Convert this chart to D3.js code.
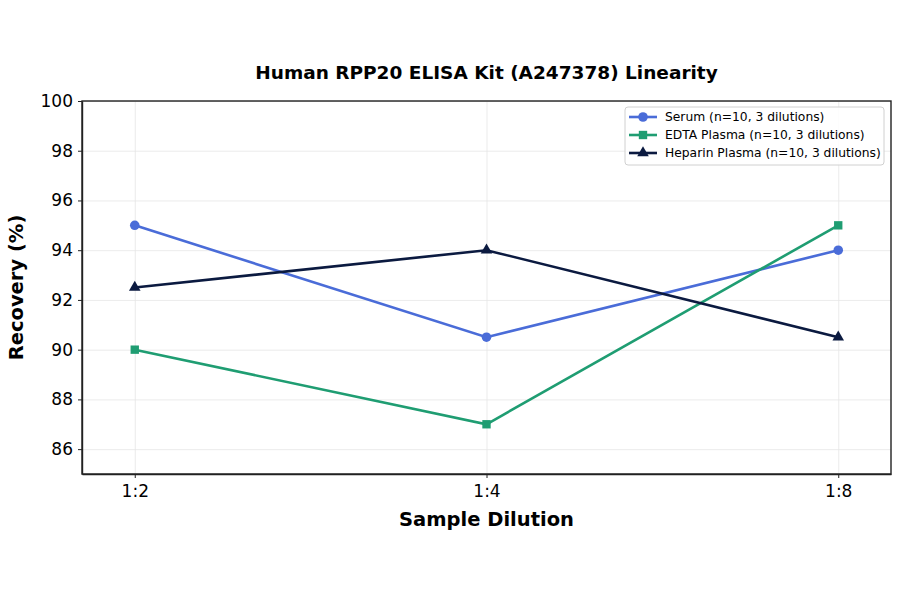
<!DOCTYPE html>
<html>
<head>
<meta charset="utf-8">
<script src="https://cdn.jsdelivr.net/npm/d3@7"></script>
<style>
  body { margin: 0; background: #fff; }
  text { font-family: "DejaVu Sans", sans-serif; fill: #000; }
  .grid line { stroke: #e6e6e6; stroke-width: 0.8; }
  .grid .domain { display: none; }
  .axis .domain { stroke: #222; stroke-width: 1.4; }
  .axis line { stroke: #222; }
</style>
</head>
<body>
<svg id="chart" width="900" height="594"></svg>
<script>
var dilutions = ["1:2", "1:4", "1:8"];
var serum = [95, 90.5, 94];
var edta = [90, 87, 95];
var heparin = [92.5, 94, 90.5];
var seriesNames = ["Serum (n=10, 3 dilutions)", "EDTA Plasma (n=10, 3 dilutions)", "Heparin Plasma (n=10, 3 dilutions)"];
var yTicks = [86, 88, 90, 92, 94, 96, 98, 100];

var colors = ["#4a6cd8", "#1f9d72", "#0b1a40"];
var symbols = [d3.symbolCircle, d3.symbolSquare, d3.symbolTriangle];
var symbolSizes = [72, 70, 58];

var margin = { top: 101, right: 9, bottom: 120, left: 82 },
    width = 900 - margin.left - margin.right,
    height = 594 - margin.top - margin.bottom;

var svg = d3.select("#chart");
var g = svg.append("g").attr("transform", "translate(" + margin.left + "," + margin.top + ")");

var x = d3.scalePoint().domain(dilutions).range([0, width]).padding(0.15);
var y = d3.scaleLinear().domain([85, 100]).range([height, 0]);

// grid
g.append("g").attr("class", "grid")
    .call(d3.axisLeft(y).tickValues(yTicks).tickSize(-width).tickFormat(""));
g.append("g").attr("class", "grid")
    .attr("transform", "translate(0," + height + ")")
    .call(d3.axisBottom(x).tickSize(-height).tickFormat(""));

var data = [serum, edta, heparin].map(function(vals, i) {
    return { name: seriesNames[i], color: colors[i], symbol: symbols[i], size: symbolSizes[i],
             values: vals.map(function(v, j) { return { key: dilutions[j], value: v }; }) };
});

var line = d3.line()
    .x(function(d) { return x(d.key); })
    .y(function(d) { return y(d.value); });

data.forEach(function(s) {
    g.append("path")
        .datum(s.values)
        .attr("fill", "none")
        .attr("stroke", s.color)
        .attr("stroke-width", 2.6)
        .attr("d", line);
    g.selectAll(null)
        .data(s.values)
        .enter().append("path")
        .attr("transform", function(d) { return "translate(" + x(d.key) + "," + y(d.value) + ")"; })
        .attr("d", d3.symbol().type(s.symbol).size(s.size))
        .attr("fill", s.color);
});

// axes
var yAxis = g.append("g").attr("class", "axis")
    .call(d3.axisLeft(y).tickValues(yTicks).tickSize(4).tickPadding(5).tickSizeOuter(0));
yAxis.selectAll("text").style("font-size", "17px");

var xAxis = g.append("g").attr("class", "axis")
    .attr("transform", "translate(0," + height + ")")
    .call(d3.axisBottom(x).tickSize(4).tickPadding(7).tickSizeOuter(0));
xAxis.selectAll("text").style("font-size", "17px");

// frame
g.append("rect")
    .attr("width", width).attr("height", height)
    .attr("fill", "none").attr("stroke", "#222").attr("stroke-width", 1.4);

// titles
svg.append("text")
    .attr("x", margin.left + width / 2).attr("y", 79)
    .attr("text-anchor", "middle")
    .style("font-size", "18.5px").style("font-weight", "bold")
    .text("Human RPP20 ELISA Kit (A247378) Linearity");

svg.append("text")
    .attr("x", margin.left + width / 2).attr("y", 526)
    .attr("text-anchor", "middle")
    .style("font-size", "19.5px").style("font-weight", "bold")
    .text("Sample Dilution");

svg.append("text")
    .attr("transform", "translate(23," + (margin.top + height / 2) + ") rotate(-90)")
    .attr("text-anchor", "middle")
    .style("font-size", "19.5px").style("font-weight", "bold")
    .text("Recovery (%)");

// legend
var legend = g.append("g").attr("transform", "translate(" + (width - 266) + ",6)");
legend.append("rect")
    .attr("width", 259).attr("height", 58).attr("rx", 3)
    .attr("fill", "#fff").attr("fill-opacity", 0.85)
    .attr("stroke", "#d0d0d0");
data.forEach(function(s, i) {
    var row = legend.append("g").attr("transform", "translate(0," + (10 + i * 18) + ")");
    row.append("line").attr("x1", 4).attr("x2", 32)
        .attr("stroke", s.color).attr("stroke-width", 2.6);
    row.append("path").attr("transform", "translate(18,0)")
        .attr("d", d3.symbol().type(s.symbol).size(s.size))
        .attr("fill", s.color);
    row.append("text").attr("x", 40).attr("dy", "0.35em")
        .style("font-size", "12.3px").text(s.name);
});
</script>
</body>
</html>
